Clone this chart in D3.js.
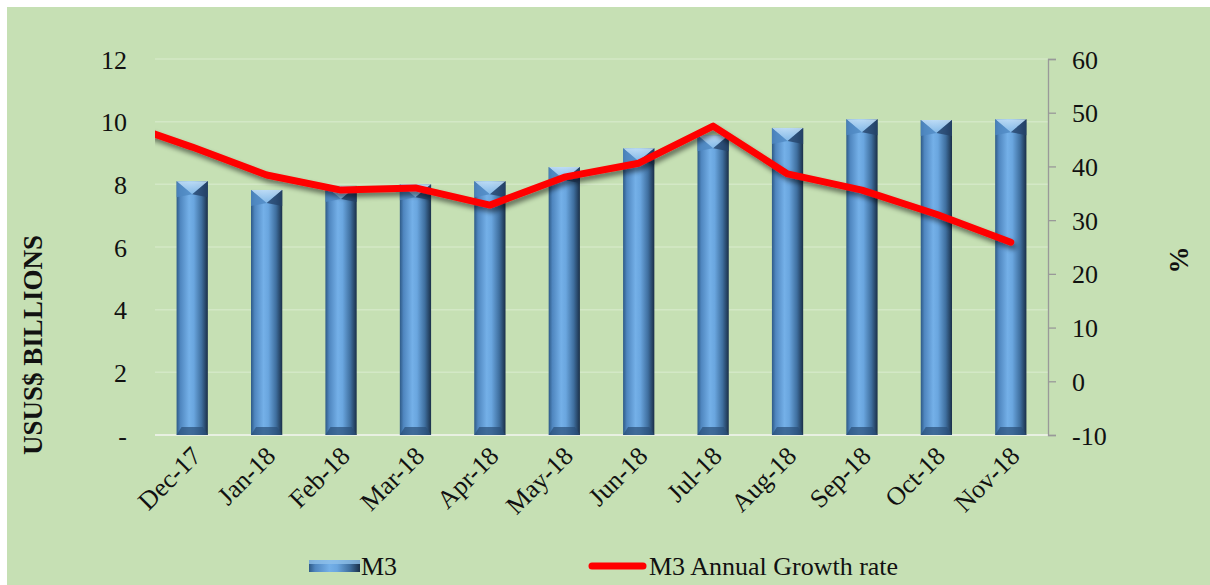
<!DOCTYPE html>
<html>
<head>
<meta charset="utf-8">
<script src="https://cdn.jsdelivr.net/npm/d3@7"></script>
<style>
  body { margin: 0; background: #fff; }
  text { font-family: "Liberation Serif", "Times New Roman", serif; fill: #111; }
</style>
</head>
<body>
<svg id="chart" width="1210" height="585"></svg>
<script>
// data
var months = ["Dec-17", "Jan-18", "Feb-18", "Mar-18", "Apr-18", "May-18",
              "Jun-18", "Jul-18", "Aug-18", "Sep-18", "Oct-18", "Nov-18"];
var m3 = [8.1, 7.82, 7.95, 8.0, 8.1, 8.55, 9.15, 9.57, 9.8, 10.08, 10.05, 10.08];
var growth = [43.6, 38.4, 35.6, 36.0, 32.8, 38.0, 40.6, 47.5, 38.6, 35.6, 31.1, 25.9];
// the line runs in from a month before the first one (clipped at the plot edge)
var prevMonth = "Nov-17";
var prevGrowth = 48.4;
var leftTicks = [0, 2, 4, 6, 8, 10, 12];
var rightTicks = [-10, 0, 10, 20, 30, 40, 50, 60];

var svg = d3.select("#chart");
var plotL = 155, plotR = 1048, plotT = 59, plotB = 435;
var fs = "26px";

svg.append("rect")
    .attr("x", 7).attr("y", 7)
    .attr("width", 1210 - 7).attr("height", 585 - 7)
    .attr("fill", "#c6e0b4");

var defs = svg.append("defs");
var g1 = defs.append("linearGradient").attr("id", "barGrad")
    .attr("x1", "0%").attr("x2", "100%").attr("y1", "0%").attr("y2", "0%");
[[0, "#2e5a86"], [0.12, "#4f86bf"], [0.4, "#74b0e8"], [0.55, "#6aa6df"],
 [0.8, "#3f6f9f"], [1, "#1a2f48"]].forEach(function(s){
    g1.append("stop").attr("offset", s[0]).attr("stop-color", s[1]);
});
var g2 = defs.append("linearGradient").attr("id", "capGrad")
    .attr("x1", "0%").attr("x2", "0%").attr("y1", "0%").attr("y2", "100%");
g2.append("stop").attr("offset", 0).attr("stop-color", "#c4e0f7");
g2.append("stop").attr("offset", 1).attr("stop-color", "#86bbe9");
var sh = defs.append("filter").attr("id", "lineShadow")
    .attr("x", "-5%").attr("y", "-20%").attr("width", "110%").attr("height", "140%");
sh.append("feGaussianBlur").attr("in", "SourceAlpha").attr("stdDeviation", 2.5).attr("result", "b");
sh.append("feOffset").attr("in", "b").attr("dx", 2).attr("dy", 4).attr("result", "o");
sh.append("feComponentTransfer").attr("in", "o").attr("result", "o2")
    .append("feFuncA").attr("type", "linear").attr("slope", 0.5);
var mg = sh.append("feMerge");
mg.append("feMergeNode").attr("in", "o2");
mg.append("feMergeNode").attr("in", "SourceGraphic");
defs.append("clipPath").attr("id", "plotClip")
    .append("rect").attr("x", plotL).attr("y", 0)
    .attr("width", plotR - plotL).attr("height", 585);

var x = d3.scaleBand().domain(months).range([plotL, plotR]).paddingInner(0.58).paddingOuter(0.29);
var y = d3.scaleLinear().domain([0, 12]).range([plotB, plotT]);
var y2 = d3.scaleLinear().domain([-10, 60]).range([plotB, plotT]);

// gridlines
svg.append("g").selectAll("line").data(leftTicks.slice(1)).enter().append("line")
    .attr("x1", plotL).attr("x2", plotR)
    .attr("y1", function(d){ return y(d); }).attr("y2", function(d){ return y(d); })
    .attr("stroke", "#d3e8c6").attr("stroke-width", 1.5);
svg.append("line").attr("x1", plotL).attr("x2", plotR)
    .attr("y1", plotB).attr("y2", plotB)
    .attr("stroke", "#e8f0e2").attr("stroke-width", 2);

// left axis
var axisL = d3.axisLeft(y).tickValues(leftTicks).tickSize(0).tickPadding(0)
    .tickFormat(function(d){ return d === 0 ? "-" : String(d); });
var gl = svg.append("g").attr("transform", "translate(127,0)").call(axisL);
gl.select(".domain").remove();
gl.selectAll("text").style("font-size", fs).attr("dy", "0.35em");

// right axis
var axisR = d3.axisRight(y2).tickValues(rightTicks).tickSize(8).tickPadding(16)
    .tickFormat(function(d){ return String(d); });
var gr = svg.append("g").attr("transform", "translate(" + plotR + ",0)").call(axisR);
gr.select(".domain").attr("stroke", "#999").attr("stroke-width", 1.3);
gr.selectAll(".tick line").attr("stroke", "#999").attr("stroke-width", 1.3);
gr.selectAll("text").style("font-size", fs).attr("dy", "0.35em");

// x labels
svg.append("g").selectAll("text").data(months).enter().append("text")
    .attr("transform", function(d){
        return "translate(" + (x(d) + x.bandwidth() / 2 + 4) + "," + (plotB + 16) + ") rotate(-45)";
    })
    .attr("text-anchor", "end")
    .attr("dy", "0.35em")
    .style("font-size", fs)
    .text(function(d){ return d; });

// bars
var bars = svg.append("g").selectAll("g").data(m3).enter().append("g");
bars.append("rect")
    .attr("x", function(d, i){ return x(months[i]); })
    .attr("y", function(d){ return y(d); })
    .attr("width", x.bandwidth())
    .attr("height", function(d){ return plotB - y(d); })
    .attr("fill", "url(#barGrad)");
// top bevel
bars.append("path")
    .attr("d", function(d, i){
        var x0 = x(months[i]), w = x.bandwidth(), t = y(d);
        return "M" + x0 + "," + t + "L" + (x0 + w) + "," + t +
               "L" + (x0 + w / 2) + "," + (t + 13) + "Z";
    })
    .attr("fill", "url(#capGrad)").attr("opacity", 0.9);
bars.append("path")
    .attr("d", function(d, i){
        var x0 = x(months[i]), w = x.bandwidth(), t = y(d);
        return "M" + x0 + "," + t + "L" + (x0 + w / 2) + "," + (t + 13) +
               "L" + x0 + "," + (t + 16) + "Z";
    })
    .attr("fill", "#4f88c2").attr("opacity", 0.8);
bars.append("path")
    .attr("d", function(d, i){
        var x0 = x(months[i]), w = x.bandwidth(), t = y(d);
        return "M" + (x0 + w) + "," + t + "L" + (x0 + w / 2) + "," + (t + 13) +
               "L" + (x0 + w) + "," + (t + 16) + "Z";
    })
    .attr("fill", "#25446a").attr("opacity", 0.8);
// bottom bevel
bars.append("path")
    .attr("d", function(d, i){
        var x0 = x(months[i]), w = x.bandwidth();
        return "M" + x0 + "," + plotB + "L" + (x0 + w) + "," + plotB +
               "L" + (x0 + w - 5) + "," + (plotB - 8) + "L" + (x0 + 5) + "," + (plotB - 8) + "Z";
    })
    .attr("fill", "#2a4f78").attr("opacity", 0.7);

// growth line
var cx = function(i){ return x(months[i]) + x.bandwidth() / 2; };
var pts = [[cx(0) - x.step(), y2(prevGrowth)]].concat(growth.map(function(d, i){
    return [cx(i), y2(d)];
}));
svg.append("g").attr("clip-path", "url(#plotClip)")
    .append("path")
    .attr("d", d3.line()(pts))
    .attr("fill", "none")
    .attr("stroke", "#ff0000")
    .attr("stroke-width", 7)
    .attr("stroke-linejoin", "round")
    .attr("stroke-linecap", "round")
    .attr("filter", "url(#lineShadow)");

// axis titles
svg.append("text")
    .attr("transform", "translate(42,345) rotate(-90)")
    .attr("text-anchor", "middle")
    .style("font-size", "27px").style("font-weight", "bold")
    .text("USUS$ BILLIONS");
svg.append("text")
    .attr("transform", "translate(1188,260) rotate(-90)")
    .attr("text-anchor", "middle")
    .style("font-size", "27px").style("font-weight", "bold")
    .text("%");

// legend
var lg = svg.append("g");
lg.append("rect").attr("x", 309).attr("y", 560).attr("width", 51).attr("height", 12)
    .attr("fill", "url(#barGrad)");
lg.append("rect").attr("x", 309).attr("y", 560).attr("width", 51).attr("height", 4)
    .attr("fill", "#8fc0ea").attr("opacity", 0.8);
lg.append("text").attr("x", 361).attr("y", 575).style("font-size", fs).text("M3");
lg.append("line").attr("x1", 592).attr("x2", 643).attr("y1", 566).attr("y2", 566)
    .attr("stroke", "#ff0000").attr("stroke-width", 7).attr("stroke-linecap", "round");
lg.append("text").attr("x", 649).attr("y", 575).style("font-size", fs).text("M3 Annual Growth rate");
</script>
</body>
</html>
